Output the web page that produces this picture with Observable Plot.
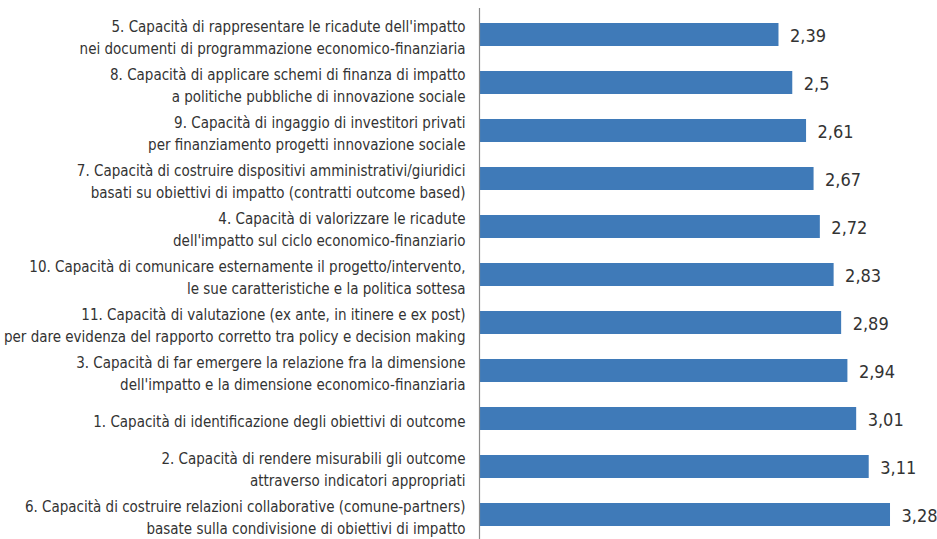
<!DOCTYPE html>
<html>
<head>
<meta charset="utf-8">
<script src="https://cdn.jsdelivr.net/npm/d3@7"></script>
<script src="https://cdn.jsdelivr.net/npm/@observablehq/plot@0.6"></script>
<style>
  html, body { margin: 0; padding: 0; background: #fff; }
  #chart svg { display: block; }
</style>
</head>
<body>
<div id="chart"></div>
<script>
const categories = [
  "5. Capacità di rappresentare le ricadute dell'impatto\nnei documenti di programmazione economico-finanziaria",
  "8. Capacità di applicare schemi di finanza di impatto\na politiche pubbliche di innovazione sociale",
  "9. Capacità di ingaggio di investitori privati\nper finanziamento progetti innovazione sociale",
  "7. Capacità di costruire dispositivi amministrativi/giuridici\nbasati su obiettivi di impatto (contratti outcome based)",
  "4. Capacità di valorizzare le ricadute\ndell'impatto sul ciclo economico-finanziario",
  "10. Capacità di comunicare esternamente il progetto/intervento,\nle sue caratteristiche e la politica sottesa",
  "11. Capacità di valutazione (ex ante, in itinere e ex post)\nper dare evidenza del rapporto corretto tra policy e decision making",
  "3. Capacità di far emergere la relazione fra la dimensione\ndell'impatto e la dimensione economico-finanziaria",
  "1. Capacità di identificazione degli obiettivi di outcome",
  "2. Capacità di rendere misurabili gli outcome\nattraverso indicatori appropriati",
  "6. Capacità di costruire relazioni collaborative (comune-partners)\nbasate sulla condivisione di obiettivi di impatto"
];
const values = [2.39, 2.5, 2.61, 2.67, 2.72, 2.83, 2.89, 2.94, 3.01, 3.11, 3.28];

const data = categories.map((c, i) => ({label: c, value: values[i]}));
const fmt = v => String(v).replace(".", ",");
const FONT = "'DejaVu Sans Condensed', 'Liberation Sans Narrow', sans-serif";

const chart = Plot.plot({
  width: 937,
  height: 539,
  marginLeft: 479,
  marginRight: 0,
  marginTop: 8,
  marginBottom: 0,
  style: {fontFamily: FONT, background: "#fff"},
  x: {domain: [0, 3.655], range: [479, 937], axis: null},
  y: {domain: categories, range: [8, 541], paddingInner: 0.525, paddingOuter: 0.2625, axis: null},
  marks: [
    Plot.barX(data, {x: "value", y: "label", fill: "#3f7ab8"}),
    Plot.ruleX([0], {stroke: "#8a8a8a", strokeWidth: 1.2}),
    Plot.text(data, {
      x: 0, y: "label", text: "label",
      textAnchor: "end", dx: -14, dy: 1,
      fontSize: 15, lineHeight: 1.45, fill: "#333"
    }),
    Plot.text(data, {
      x: "value", y: "label", text: d => fmt(d.value),
      textAnchor: "start", dx: 11, dy: 1,
      fontSize: 18, fill: "#333"
    })
  ]
});
document.getElementById("chart").appendChild(chart);
</script>
</body>
</html>
